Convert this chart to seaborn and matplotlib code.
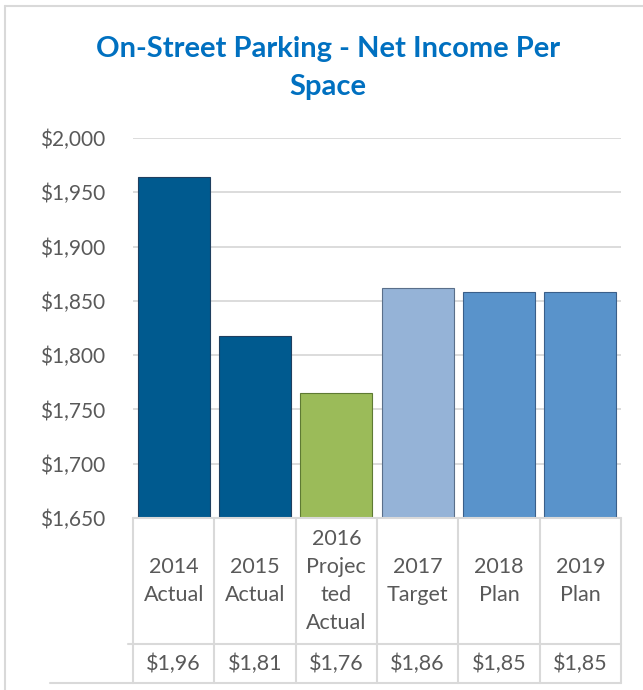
import matplotlib
matplotlib.use("Agg")
import matplotlib.pyplot as plt
from matplotlib.lines import Line2D
import seaborn as sns
import pandas as pd

# Chart data
categories = ["2014\nActual", "2015\nActual", "2016\nProjec\nted\nActual",
              "2017\nTarget", "2018\nPlan", "2019\nPlan"]
net_income = [1964, 1818, 1765, 1862, 1858, 1858]
table_values = ["$1,96", "$1,81", "$1,76", "$1,86", "$1,85", "$1,85"]
y_ticks = [1650, 1700, 1750, 1800, 1850, 1900, 1950, 2000]
bar_colors = ["#005A8F", "#005A8F", "#9BBB59", "#95B3D7", "#5993CB", "#5993CB"]
edge_colors = ["#1F3F5F", "#1F3F5F", "#5E7A33", "#5A6F8A", "#3A5F8A", "#3A5F8A"]

sns.set_theme(style="white")
plt.rcParams['font.family'] = ['Lato', 'DejaVu Sans']

W, H = 643, 690
fig = plt.figure(figsize=(W / 100, H / 100), dpi=100)

# plot area in pixels
x0, x1, ytop, ybot = 133, 621, 138, 518
ax = fig.add_axes([x0 / W, 1 - ybot / H, (x1 - x0) / W, (ybot - ytop) / H])

df = pd.DataFrame({'cat': categories, 'value': net_income})
sns.barplot(data=df, x='cat', y='value', hue='cat', palette=bar_colors,
            legend=False, width=0.885, saturation=1, ax=ax)
for p, ec in zip(ax.patches, edge_colors):
    p.set_edgecolor(ec)
    p.set_linewidth(0.8)

ax.set_ylim(1650, 2000)
ax.set_xlim(-0.5, len(categories) - 0.5)
ax.set_yticks(y_ticks)
ax.set_yticklabels([f"${v:,.0f}" for v in y_ticks])
ax.set_xticks([])
ax.set_xlabel('')
ax.set_ylabel('')
ax.tick_params(axis='y', length=0, pad=20, labelsize=15, labelcolor='#595959')
ax.yaxis.grid(True, color='#D9D9D9', lw=1.3)
ax.set_axisbelow(True)
for s in ax.spines.values():
    s.set_visible(False)

# Data table below the bars
tbot = 683
tax = fig.add_axes([x0 / W, 1 - tbot / H, (x1 - x0) / W, (tbot - ybot) / H])
tax.set_xlim(-0.5, len(categories) - 0.5)
tax.set_ylim(0, 1)
tax.axis('off')
split = (tbot - 644) / (tbot - ybot)
line_kw = dict(color='#D9D9D9', lw=1.5, clip_on=False)
cell_px = (x1 - x0) / len(categories)
for i in range(len(categories) + 1):
    tax.plot([i - 0.5, i - 0.5], [0, 1], **line_kw)
tax.plot([-0.5, len(categories) - 0.5], [1, 1], **line_kw)
tax.plot([-0.5 - 5 / cell_px, len(categories) - 0.5], [split, split], **line_kw)
tax.plot([-0.5 - 83 / cell_px, len(categories) - 0.5], [0, 0], **line_kw)
for i, (lab, val) in enumerate(zip(categories, table_values)):
    tax.text(i, (1 + split) / 2, lab, ha='center', va='center', fontsize=15.5,
             color='#595959', linespacing=1.5, multialignment='center')
    tax.text(i, split / 2, val, ha='center', va='center', fontsize=15.5, color='#595959')

# Title
fig.text(328 / W, 1 - 68 / H, "On-Street Parking - Net Income Per\nSpace",
         ha='center', va='center', fontsize=21, fontweight='bold',
         color='#0070C0', linespacing=1.55, multialignment='center')

# Chart frame
fig.add_artist(Line2D([5 / W, 5 / W], [0, 1 - 6 / H], transform=fig.transFigure,
                      color='#D9D9D9', lw=1.5))
fig.add_artist(Line2D([5 / W, 1], [1 - 6 / H, 1 - 6 / H], transform=fig.transFigure,
                      color='#D9D9D9', lw=1.5))

fig.savefig('out.png', dpi=100, facecolor='white')
